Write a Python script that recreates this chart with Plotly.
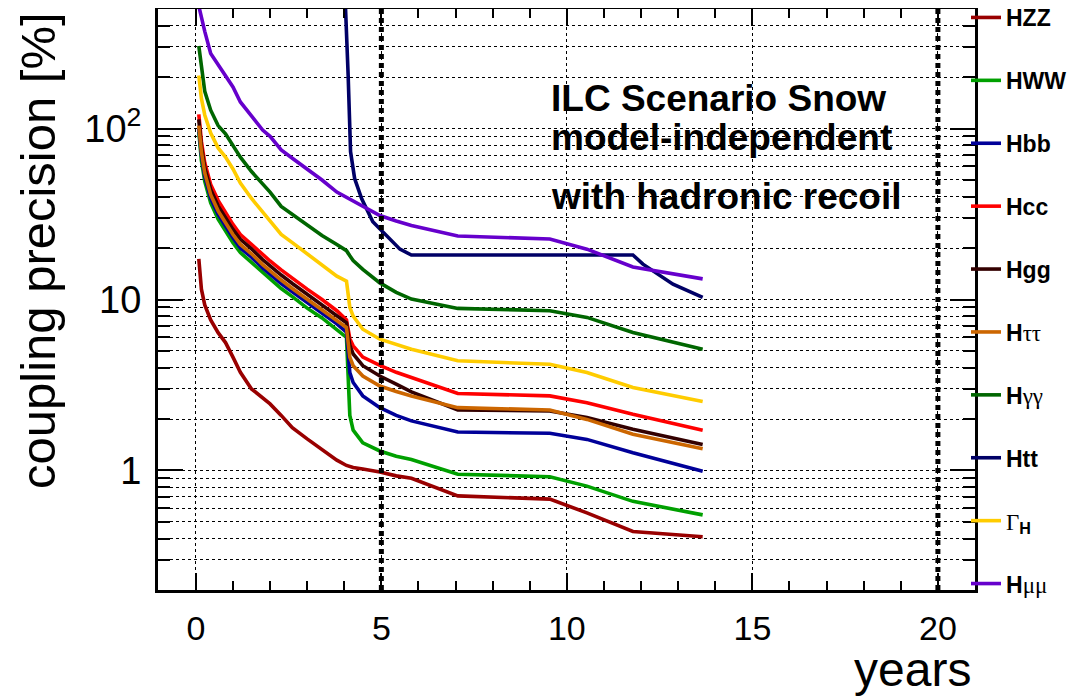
import math
import plotly.graph_objects as go

# ---------------- data ----------------
years = [0.08, 0.15, 0.24, 0.4, 0.6, 0.8, 1.0, 1.2, 1.5, 1.8, 2.0, 2.3, 2.6, 3.0,
         3.4, 3.8, 4.06, 4.15, 4.24, 4.5, 4.96, 5.4, 5.81, 7.06, 9.54, 10.54, 11.78, 13.66]

hzz = [17.3, 11.5, 9.3, 7.6, 6.4, 5.6, 4.6, 3.75, 3.0, 2.65, 2.45, 2.1, 1.78, 1.53,
       1.32, 1.15, 1.07, 1.05, 1.04, 1.02, 0.98, 0.93, 0.90, 0.71, 0.68, 0.565, 0.44, 0.41]
hww = [96, 65, 49, 36.7, 29.5, 25, 21.5, 18.8, 16.5, 14.3, 13.1, 11.6, 10.4, 8.9,
       7.8, 6.7, 6.0, 2.1, 1.72, 1.45, 1.3, 1.21, 1.16, 0.95, 0.92, 0.81, 0.66, 0.55]
hbb = [100, 70, 52.5, 39, 31.5, 26.8, 23, 20, 17.7, 15.3, 14, 12.4, 11.1, 9.6,
       8.3, 7.2, 6.45, 3.74, 3.27, 2.73, 2.33, 2.1, 1.95, 1.68, 1.65, 1.52, 1.27, 0.99]
hcc = [121, 84, 63, 47, 38, 32, 27.5, 24, 21, 18.3, 16.8, 14.9, 13.3, 11.5,
       10, 8.6, 7.6, 5.9, 5.36, 4.6, 4.12, 3.75, 3.5, 2.82, 2.73, 2.49, 2.13, 1.72]
hgg = [113, 78, 59, 44, 35.3, 30, 25.7, 22.5, 19.8, 17.1, 15.7, 13.9, 12.4, 10.7,
       9.3, 8.0, 7.3, 5.4, 4.8, 4.1, 3.57, 3.2, 2.88, 2.26, 2.23, 2.04, 1.74, 1.42]
htautau = [104, 73, 55, 41, 33, 28, 24, 21, 18.5, 16, 14.7, 13, 11.6, 10,
           8.7, 7.5, 6.85, 4.6, 4.1, 3.57, 3.12, 2.9, 2.73, 2.33, 2.26, 1.99, 1.63, 1.34]
hgamgam = [304, 235, 165, 128, 104, 93, 80, 68, 56, 47, 42.5, 35, 31.5, 27.5,
           23.7, 21, 19.3, 18, 16.9, 15, 12.5, 11.0, 10.05, 8.87, 8.6, 7.86, 6.42, 5.12]
gamma_h = [204, 150, 120, 94, 77, 68, 58, 48, 39, 32.5, 29, 24, 21.5, 18.5,
           15.8, 13.7, 12.8, 9.0, 8.0, 6.7, 5.86, 5.45, 5.12, 4.38, 4.18, 3.74, 3.06, 2.53]
hmumu = [520, 440, 370, 275, 235, 205, 175, 143, 118, 98, 90, 75, 67, 58,
         50, 42.5, 39.5, 38.5, 37.5, 35, 31, 28.8, 27.1, 23.5, 22.6, 19.7, 15.5, 13.2]

htt_years = [4.02, 4.035, 4.105, 4.17, 4.28, 4.47, 4.77, 5.14, 5.5, 5.81, 11.78, 12.05, 12.86, 13.66]
htt = [700, 500, 205, 73, 51, 38.8, 28.5, 23.5, 19.7, 18.2, 18.2, 16.1, 12.3, 10.3]

GREEK = "<span style='font-family:Liberation Serif, DejaVu Serif, serif'>{}</span>"
series_names = ["<b>HZZ</b>", "<b>HWW</b>", "<b>Hbb</b>", "<b>Hcc</b>", "<b>Hgg</b>",
                "<b>H</b>" + GREEK.format("ττ"), "<b>H</b>" + GREEK.format("γγ"),
                "<b>Htt</b>", GREEK.format("Γ") + "<sub><b>H</b></sub>",
                "<b>H</b>" + GREEK.format("μμ")]
series_values = [hzz, hww, hbb, hcc, hgg, htautau, hgamgam, htt, gamma_h, hmumu]
series_x = [years, years, years, years, years, years, years, htt_years, years, years]
series_colors = ["#990000", "#00a000", "#000099", "#ff0000", "#330000",
                 "#cc6600", "#006600", "#000066", "#ffcc00", "#6600cc"]

milestones = [5, 20]
y_major = [1, 10, 100]
y_major_text = ["1", "10", "10<sup>2</sup>"]
y_minor = [0.3, 0.4, 0.5, 0.6, 0.7, 0.8, 0.9, 2, 3, 4, 5, 6, 7, 8, 9,
           20, 30, 40, 50, 60, 70, 80, 90, 200, 300, 400, 500]
annotation_lines = ["ILC Scenario Snow", "model-independent", "with hadronic recoil"]

# ---------------- figure ----------------
fig = go.Figure()
for name, xs, ys, col in zip(series_names, series_x, series_values, series_colors):
    fig.add_trace(go.Scatter(x=xs, y=ys, mode="lines", name=name, legendgroup=name,
                             line=dict(color=col, width=3.6)))

for m in milestones:
    fig.add_vline(x=m, line=dict(color="black", width=5, dash="5px,4px"), layer="above")

# the page places the figure 8px from the top-left corner of the window
OFF = 8
W, H = 1076 - OFF, 698 - OFF
L, R, T, B = 158 - OFF, 101, 9 - OFF, 108
pw, ph = W - L - R, H - T - B

def px_to_paper_x(px):  # px in window coordinates
    return (px - OFF - L) / pw

def px_to_paper_y(py):
    return (H - B - (py - OFF)) / ph

fig.update_layout(
    width=W, height=H,
    margin=dict(l=L, r=R, t=T, b=B, autoexpand=False),
    plot_bgcolor="white", paper_bgcolor="white",
    font=dict(family="Liberation Sans, Arial, sans-serif", color="black"),
    legend=dict(x=px_to_paper_x(966), xanchor="left", y=px_to_paper_y(-4), yanchor="top",
                font=dict(size=23, color="black"), tracegroupgap=30, maxheight=900,
                bgcolor="rgba(0,0,0,0)", borderwidth=0, itemwidth=30),
)

fig.update_xaxes(
    range=[-1.02, 21.0], tickmode="linear", tick0=0, dtick=5, automargin=False,
    ticks="inside", ticklen=17, tickwidth=2, tickcolor="black",
    tickfont=dict(size=34), ticklabelstandoff=6,
    showline=True, linewidth=3, linecolor="black", mirror="ticks",
    showgrid=True, gridcolor="black", gridwidth=1, griddash="dot",
    zeroline=False,
    minor=dict(tickmode="linear", tick0=0, dtick=1, ticks="inside", ticklen=9,
               tickwidth=2, tickcolor="black", showgrid=False),
)
fig.update_yaxes(
    type="log", range=[math.log10(0.2), math.log10(500)], automargin=False,
    tickmode="array", tickvals=y_major, ticktext=y_major_text,
    ticks="inside", ticklen=25, tickwidth=2, tickcolor="black",
    tickfont=dict(size=38), ticklabelstandoff=6,
    showline=True, linewidth=3, linecolor="black", mirror="ticks",
    showgrid=True, gridcolor="black", gridwidth=1, griddash="dot",
    zeroline=False,
    minor=dict(tickmode="array", tickvals=y_minor, ticks="inside", ticklen=12,
               tickwidth=2, tickcolor="black", showgrid=True, gridcolor="black",
               gridwidth=1, griddash="dot"),
)

# in-plot labels
for txt, py in zip(annotation_lines, [98, 138, 197]):
    fig.add_annotation(text="<b>" + txt + "</b>", xref="paper", yref="paper",
                       x=px_to_paper_x(549), y=px_to_paper_y(py), xanchor="left",
                       yanchor="middle", showarrow=False, font=dict(size=37))

# axis titles
fig.add_annotation(text="coupling precision [%]", xref="paper", yref="paper",
                   x=px_to_paper_x(38), y=px_to_paper_y(251), textangle=-90,
                   xanchor="center", yanchor="middle", showarrow=False,
                   font=dict(size=49))
fig.add_annotation(text="years", xref="paper", yref="paper",
                   x=px_to_paper_x(973), y=px_to_paper_y(669), xanchor="right",
                   yanchor="middle", showarrow=False, font=dict(size=48))

fig.write_html("out.html")
